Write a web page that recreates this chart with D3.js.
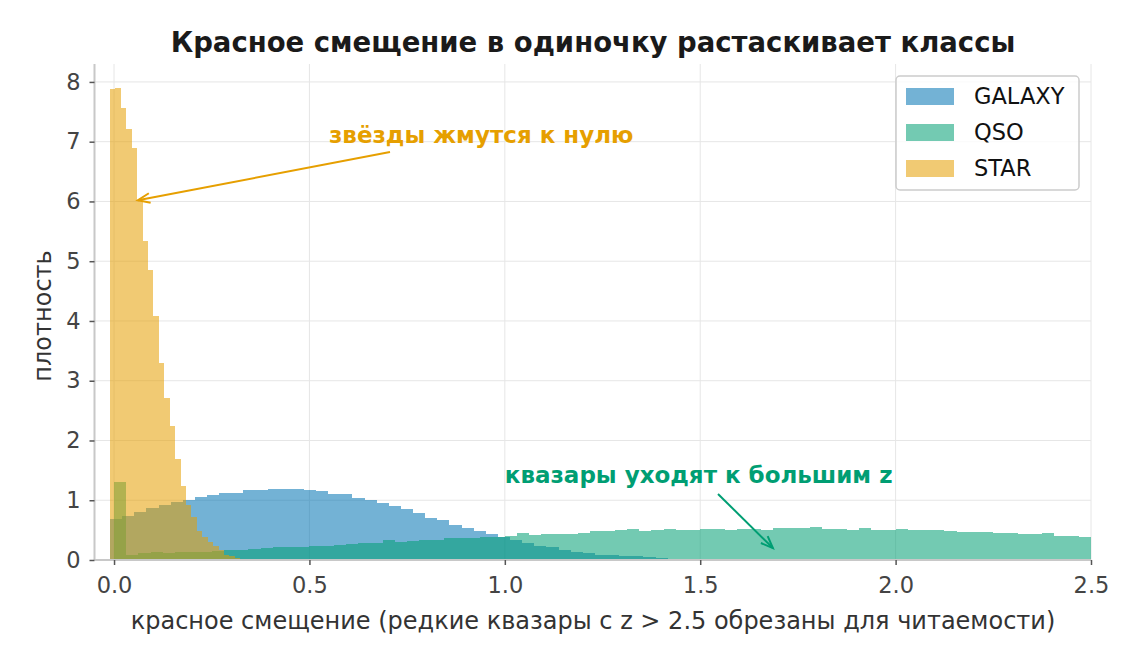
<!DOCTYPE html>
<html>
<head>
<meta charset="utf-8">
<script src="https://cdn.jsdelivr.net/npm/d3@7"></script>
<style>
  body { margin: 0; background: #fff; }
  svg { display: block; font-family: "DejaVu Sans", sans-serif; }
</style>
</head>
<body>
<div id="chart"></div>
<script>
// плотности гистограмм (density=True)
const classes = ['GALAXY', 'QSO', 'STAR'];
const colors = {GALAXY: '#0072B2', QSO: '#009E73', STAR: '#E69F00'};

// начало первого бина и ширина бина для каждого класса
const binStart = {GALAXY: -0.0102, QSO: 0.0, STAR: -0.0102};
const binWidth = {GALAXY: 0.03102, QSO: 0.03125, STAR: 0.01389};

const galaxyDensity = [0.68, 0.74, 0.80, 0.87, 0.92, 0.97, 1.00, 1.05, 1.09, 1.12,
  1.12, 1.17, 1.17, 1.19, 1.19, 1.19, 1.17, 1.15, 1.10, 1.10,
  1.04, 1.00, 0.95, 0.90, 0.85, 0.79, 0.70, 0.67, 0.59, 0.54,
  0.48, 0.43, 0.38, 0.33, 0.28, 0.23, 0.21, 0.16, 0.14, 0.11,
  0.09, 0.08, 0.07, 0.06, 0.05, 0.03, 0.02];

const qsoDensity = [1.31, 0.09, 0.11, 0.13, 0.11, 0.13, 0.14, 0.14, 0.15, 0.16,
  0.17, 0.18, 0.20, 0.21, 0.21, 0.22, 0.23, 0.24, 0.25, 0.27,
  0.28, 0.28, 0.33, 0.30, 0.32, 0.33, 0.33, 0.36, 0.36, 0.37,
  0.39, 0.38, 0.40, 0.45, 0.41, 0.43, 0.43, 0.43, 0.45, 0.48,
  0.48, 0.50, 0.52, 0.48, 0.50, 0.52, 0.50, 0.50, 0.52, 0.52,
  0.50, 0.52, 0.52, 0.50, 0.53, 0.54, 0.54, 0.55, 0.52, 0.52,
  0.50, 0.54, 0.50, 0.50, 0.52, 0.50, 0.50, 0.50, 0.49, 0.47,
  0.47, 0.47, 0.45, 0.45, 0.44, 0.44, 0.45, 0.40, 0.40, 0.39];

const starDensity = [7.88, 7.90, 7.56, 7.21, 6.90, 6.01, 5.34, 4.85, 4.08, 3.30,
  2.71, 2.24, 1.69, 1.24, 0.92, 0.72, 0.48, 0.38, 0.30, 0.23,
  0.16, 0.09, 0.06, 0.03, 0.02, 0.01, 0.01];

const densities = {GALAXY: galaxyDensity, QSO: qsoDensity, STAR: starDensity};

const xTicks = [0.0, 0.5, 1.0, 1.5, 2.0, 2.5];
const yTicks = [0, 1, 2, 3, 4, 5, 6, 7, 8];

const W = 1140, H = 664;
const plot = {left: 94.5, right: 1091, top: 64, bottom: 560};

const svg = d3.select('#chart').append('svg')
  .attr('width', W).attr('height', H);

const x = d3.scaleLinear().domain([-0.05, 2.5]).range([plot.left, plot.right]);
const y = d3.scaleLinear().domain([0, 8.3]).range([plot.bottom, plot.top]);

// сетка
const grid = svg.append('g').attr('stroke', '#e6e6e6').attr('stroke-width', 1);
xTicks.forEach(t => {
  grid.append('line').attr('x1', x(t)).attr('x2', x(t))
    .attr('y1', plot.top).attr('y2', plot.bottom);
});
yTicks.forEach(t => {
  grid.append('line').attr('x1', plot.left).attr('x2', plot.right)
    .attr('y1', y(t)).attr('y2', y(t));
});

// гистограммы
classes.forEach(cls => {
  const s = binStart[cls], w = binWidth[cls];
  svg.append('g')
    .attr('fill', colors[cls])
    .attr('fill-opacity', 0.55)
    .attr('shape-rendering', 'crispEdges')
    .selectAll('rect')
    .data(densities[cls])
    .enter()
    .append('rect')
    .attr('x', (d, i) => x(s + i * w))
    .attr('width', (d, i) => x(s + (i + 1) * w) - x(s + i * w))
    .attr('y', d => y(d))
    .attr('height', d => y(0) - y(d));
});

// оси
const xAxis = svg.append('g')
  .attr('transform', `translate(0,${plot.bottom})`)
  .call(d3.axisBottom(x).tickValues(xTicks).tickFormat(d3.format('.1f')).tickSize(5).tickPadding(12));
const yAxis = svg.append('g')
  .attr('transform', `translate(${plot.left},0)`)
  .call(d3.axisLeft(y).tickValues(yTicks).tickFormat(d3.format('d')).tickSize(5).tickPadding(9));

[xAxis, yAxis].forEach(a => {
  a.select('.domain').attr('stroke', '#c8c8c8').attr('stroke-width', 2);
  a.selectAll('.tick line').attr('stroke', '#555').attr('stroke-width', 1.5);
  a.selectAll('.tick text').attr('fill', '#444').style('font-size', '22.5px')
    .style('font-family', '"DejaVu Sans", sans-serif');
});
xAxis.select('.domain').attr('d', `M${plot.left},0H${plot.right}`);
yAxis.select('.domain').attr('d', `M0,${plot.bottom}V${plot.top}`);

// подписи
svg.append('text')
  .attr('x', 593).attr('y', 52)
  .attr('text-anchor', 'middle')
  .attr('fill', '#1a1a1a')
  .style('font-size', '27.5px').style('font-weight', 'bold')
  .text('Красное смещение в одиночку растаскивает классы');

svg.append('text')
  .attr('x', 593).attr('y', 629)
  .attr('text-anchor', 'middle')
  .attr('fill', '#333')
  .style('font-size', '24px')
  .text('красное смещение (редкие квазары с z > 2.5 обрезаны для читаемости)');

svg.append('text')
  .attr('transform', `translate(51,${(plot.top + plot.bottom) / 2 + 4}) rotate(-90)`)
  .attr('text-anchor', 'middle')
  .attr('fill', '#333')
  .style('font-size', '24px')
  .text('плотность');

// аннотации со стрелками
function arrow(x1, y1, x2, y2, color) {
  svg.append('line')
    .attr('x1', x1).attr('y1', y1).attr('x2', x2).attr('y2', y2)
    .attr('stroke', color).attr('stroke-width', 2);
  const ang = Math.atan2(y1 - y2, x1 - x2);
  const len = 13, spread = 0.38;
  const p = a => [x2 + len * Math.cos(a), y2 + len * Math.sin(a)];
  const a1 = p(ang + spread), a2 = p(ang - spread);
  svg.append('path')
    .attr('d', `M${a1[0]},${a1[1]}L${x2},${y2}L${a2[0]},${a2[1]}`)
    .attr('fill', 'none').attr('stroke', color).attr('stroke-width', 2);
}

arrow(390, 152, x(0.061), y(6.02), colors.STAR);
svg.append('text')
  .attr('x', x(0.55)).attr('y', 143)
  .attr('fill', colors.STAR)
  .style('font-size', '23px').style('font-weight', 'bold')
  .text('звёзды жмутся к нулю');

arrow(718, 494, x(1.686), y(0.2), colors.QSO);
svg.append('text')
  .attr('x', x(1.0)).attr('y', 483)
  .attr('fill', colors.QSO)
  .style('font-size', '23px').style('font-weight', 'bold')
  .text('квазары уходят к большим z');

// легенда
const legend = svg.append('g').attr('transform', 'translate(896,76)');
legend.append('rect')
  .attr('width', 183).attr('height', 114).attr('rx', 4)
  .attr('fill', '#fff').attr('fill-opacity', 0.8)
  .attr('stroke', '#cccccc').attr('stroke-width', 1.5);
classes.forEach((cls, i) => {
  const row = legend.append('g').attr('transform', `translate(10,${12 + i * 36})`);
  row.append('rect').attr('width', 48).attr('height', 17)
    .attr('fill', colors[cls]).attr('fill-opacity', 0.55);
  row.append('text').attr('x', 68).attr('y', 8.5).attr('dy', '0.35em')
    .attr('fill', '#111').style('font-size', '22.5px').text(cls);
});
</script>
</body>
</html>
